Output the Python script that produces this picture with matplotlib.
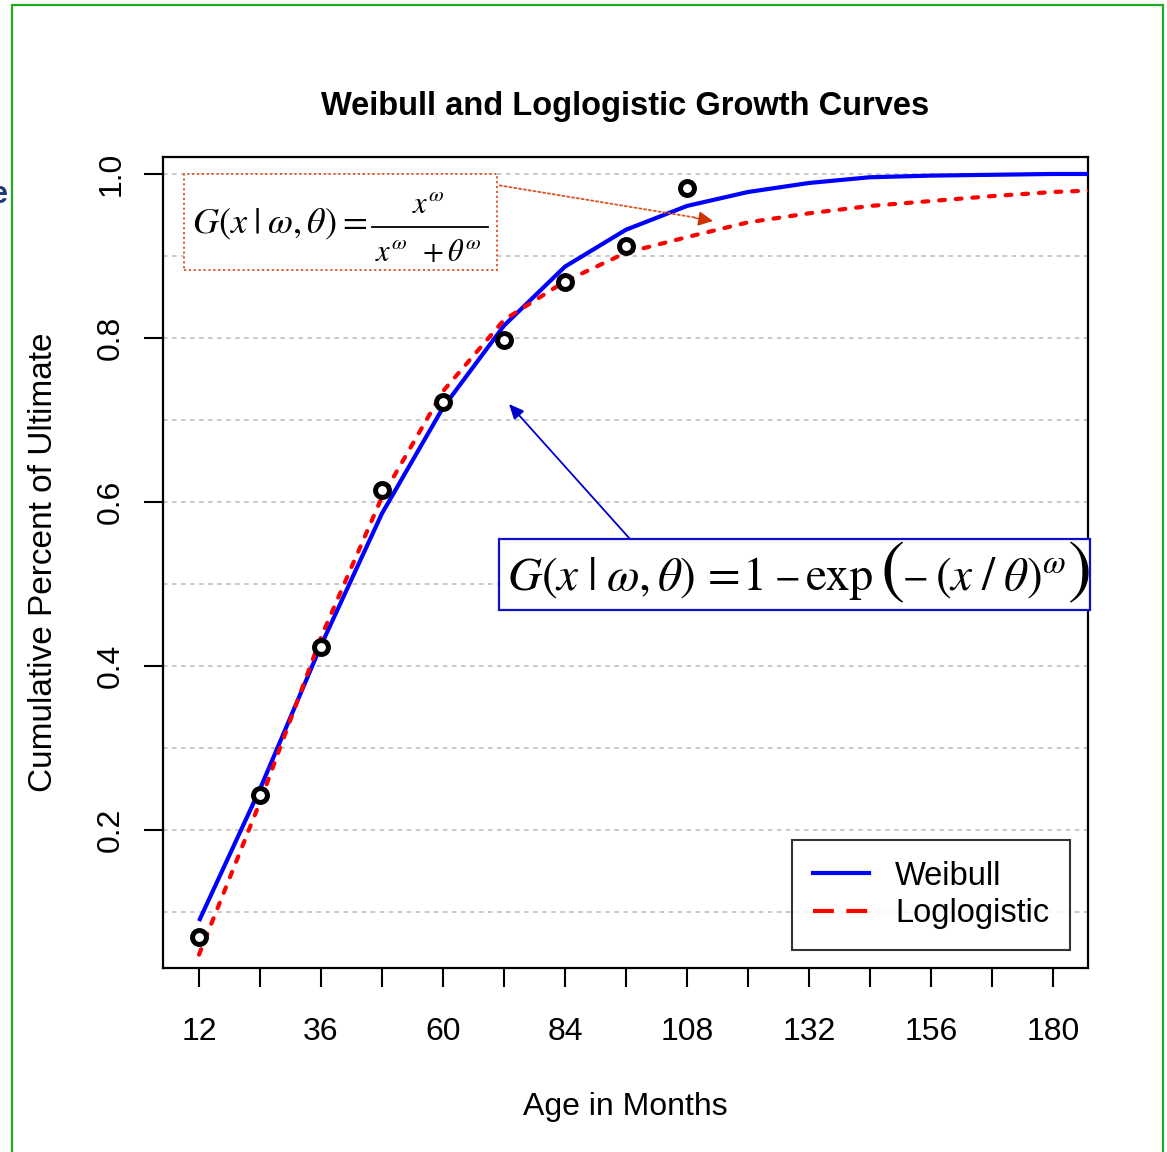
import matplotlib
matplotlib.use("Agg")
import matplotlib.pyplot as plt
from matplotlib.patches import Rectangle
from matplotlib.lines import Line2D

plt.rcParams['font.family'] = ['Liberation Sans', 'DejaVu Sans']
plt.rcParams['mathtext.fontset'] = 'stix'

# ---- data ----
months = [12, 24, 36, 48, 60, 72, 84, 96, 108, 120, 132, 144, 156, 168, 180, 192]
obs_months = [12, 24, 36, 48, 60, 72, 84, 96, 108]
observed = [0.069, 0.243, 0.423, 0.615, 0.722, 0.798, 0.868, 0.912, 0.983]
weibull = [0.089, 0.250, 0.425, 0.586, 0.715, 0.815, 0.887, 0.932, 0.961,
           0.978, 0.989, 0.996, 0.998, 0.999, 1.000, 1.000]
loglogistic = [0.048, 0.234, 0.435, 0.606, 0.735, 0.822, 0.869, 0.904, 0.923,
               0.941, 0.952, 0.961, 0.967, 0.973, 0.978, 0.981]
xticks_minor = list(range(12, 181, 12))
xtick_labels = [12, 36, 60, 84, 108, 132, 156, 180]
yticks = [0.2, 0.4, 0.6, 0.8, 1.0]
grid_levels = [0.1, 0.2, 0.3, 0.4, 0.5, 0.6, 0.7, 0.8, 0.9, 1.0]

W, H = 1167, 1152
fig = plt.figure(figsize=(W / 100, H / 100), dpi=100)

def fx(px):
    return px / W

def fy(py):
    return 1 - py / H

ax = fig.add_axes([fx(163), fy(968), fx(1088) - fx(163), fy(157) - fy(968)])
ax.set_xlim(4.92, 186.9)
ax.set_ylim(0.0317, 1.0207)

for g in grid_levels:
    ax.axhline(g, color='#c4c4c4', lw=1.3, ls=(0, (2.5, 2.5)), zorder=1)

ax.plot(months, weibull, color='#0000ff', lw=3.0, zorder=3, solid_capstyle='butt')
ax.plot(months, loglogistic, color='#ff0000', lw=3.0, zorder=3,
        dashes=(1.4, 2.6), dash_capstyle='round')
ax.plot(obs_months, observed, ls='none', marker='o', ms=10, mfc='white',
        mec='black', mew=3.6, zorder=4)

ax.set_xticks(xticks_minor)
ax.set_xticklabels([str(v) if v in xtick_labels else '' for v in xticks_minor])
ax.set_yticks(yticks)
ax.set_yticklabels([f'{v:.1f}' for v in yticks], rotation=90, va='center')
ax.tick_params(axis='both', length=13.5, width=1.5, labelsize=23, color='black')
ax.tick_params(axis='x', pad=22)
ax.tick_params(axis='y', pad=13)
for s in ax.spines.values():
    s.set_linewidth(1.6)

ax.set_xlabel('Age in Months', fontsize=23, labelpad=32)
ax.set_ylabel('Cumulative Percent of Ultimate', fontsize=24, labelpad=27)
fig.text(fx(625), fy(107), 'Weibull and Loglogistic Growth Curves',
         fontsize=23.5, fontweight='bold', ha='center', va='center')

# legend
handles = [Line2D([], [], color='#0000ff', lw=3),
           Line2D([], [], color='#ff0000', lw=3, dashes=(5, 3))]
leg = ax.legend(handles, ['Weibull', 'Loglogistic'], loc='upper left',
                bbox_to_anchor=(fx(792), fy(840)), bbox_transform=fig.transFigure,
                fontsize=23.5, frameon=True, fancybox=False, handlelength=1.72,
                handletextpad=0.8, labelspacing=0.19, borderpad=0.64,
                borderaxespad=0)
leg.get_frame().set_edgecolor('black')
leg.get_frame().set_linewidth(1.5)

STIX = 'STIXGeneral'

def put(px, py, s, size, **kw):
    fig.text(fx(px), fy(py), s, fontsize=size, ha='left', va='baseline', zorder=6, **kw)

# ---- Loglogistic formula box ----
fig.patches.append(Rectangle((fx(184), fy(270)), fx(497) - fx(184), fy(174) - fy(270),
                             transform=fig.transFigure, fill=True, facecolor='white',
                             edgecolor='#e05020', lw=1.3, ls=(0, (1.2, 1.5)), zorder=5))
put(192, 233, r'$G(x\;|\;\omega,\theta)$', 26)
put(342, 233, '=', 26, family=STIX)
fig.lines.append(Line2D([fx(372), fx(488)], [fy(227), fy(227)], transform=fig.transFigure,
                        color='black', lw=1.3, zorder=6))
put(412, 213, r'$x^{\omega}$', 22)
put(375, 261, r'$x^{\omega}$', 22)
put(422, 261, '+', 22, family=STIX)
put(447, 261, r'$\theta^{\omega}$', 22)

# ---- Weibull formula box ----
fig.patches.append(Rectangle((fx(499), fy(610)), fx(1090) - fx(499), fy(539) - fy(610),
                             transform=fig.transFigure, fill=True, facecolor='white',
                             edgecolor='#1010cc', lw=1.6, zorder=5))
put(507, 590, r'$G(x\;|\;\omega,\theta)$', 34)
put(708, 590, '=', 34, family=STIX)
put(743, 590, '1', 34, family=STIX)
put(775, 588, '\u2212', 27, family=STIX)
put(806, 590, 'exp', 34, family=STIX)
fig.text(fx(881), fy(574), '(', fontsize=52, family=STIX, ha='left', va='center', zorder=6)
put(903, 588, '\u2212', 27, family=STIX)
put(935, 590, r'$(x\;/\;\theta)^{\omega}$', 34)
fig.text(fx(1068), fy(574), ')', fontsize=52, family=STIX, ha='left', va='center', zorder=6)

# arrows
ax.annotate('', xy=(fx(698), fy(218)), xytext=(fx(497), fy(185)),
            xycoords='figure fraction', textcoords='figure fraction',
            arrowprops=dict(arrowstyle='-', color='#e05020', lw=1.3, ls=(0, (1.2, 1.5))),
            zorder=6, annotation_clip=False)
ax.annotate('', xy=(fx(713), fy(221)), xytext=(fx(695), fy(218)),
            xycoords='figure fraction', textcoords='figure fraction',
            arrowprops=dict(arrowstyle='-|>,head_length=0.9,head_width=0.45',
                            color='#cc3300', lw=1.0, shrinkA=0, shrinkB=0),
            zorder=6, annotation_clip=False)
ax.annotate('', xy=(fx(509), fy(404)), xytext=(fx(630), fy(539)),
            xycoords='figure fraction', textcoords='figure fraction',
            arrowprops=dict(arrowstyle='-|>,head_length=0.9,head_width=0.4',
                            color='#0000cc', lw=1.3, shrinkA=0, shrinkB=0),
            zorder=6, annotation_clip=False)

# outer green border and cut-off letter
fig.patches.append(Rectangle((fx(12), fy(1170)), fx(1163) - fx(12), fy(5) - fy(1170),
                             transform=fig.transFigure, fill=False,
                             edgecolor='#22aa22', lw=1.6, zorder=10))
fig.text(fx(-9), fy(195), 'e', fontsize=22, fontweight='bold', color='#1f3a7a',
         ha='left', va='center')

fig.savefig('out.png', dpi=100)
